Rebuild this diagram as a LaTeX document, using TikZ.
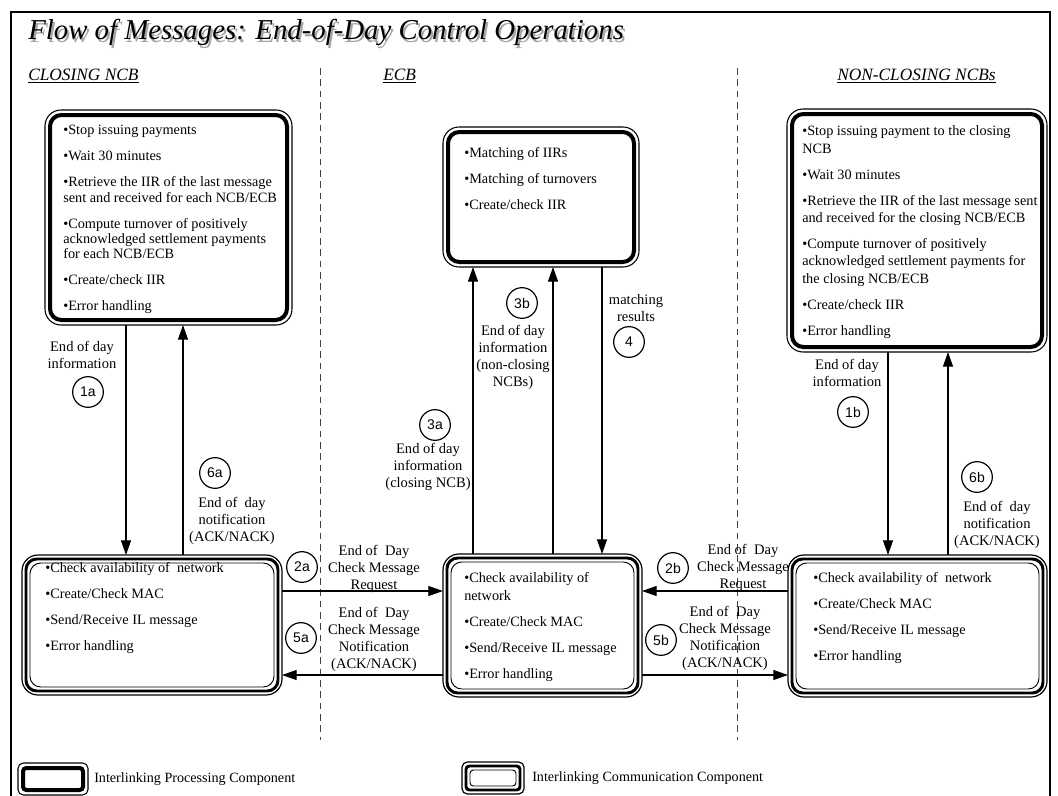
\documentclass[tikz,border=0pt]{standalone}
\usepackage{fontspec}
\setmainfont{Liberation Serif}
\newfontfamily\circfont{Liberation Sans}
\usetikzlibrary{arrows.meta,fit}

\newcommand\mkproc[7]{%
  \node[fit={(#2,#3) (#4,#5)},inner sep=0pt,outer sep=0pt] (#1) {};
  \draw[line width=0.8pt,rounded corners=#6] (#1.north west) rectangle (#1.south east);
  \draw[line width=3pt,rounded corners=#7] ([shift={(5,5)}]#1.north west) rectangle ([shift={(-5,-5)}]#1.south east);}
\newcommand\mkcomm[7]{%
  \node[fit={(#2,#3) (#4,#5)},inner sep=0pt,outer sep=0pt] (#1) {};
  \draw[line width=0.9pt,rounded corners=#6] (#1.north west) rectangle (#1.south east);
  \draw[line width=2.2pt,rounded corners=#7] ([shift={(4,4)}]#1.north west) rectangle ([shift={(-4,-4)}]#1.south east);
  \draw[line width=0.7pt,rounded corners=#7] ([shift={(8,8)}]#1.north west) rectangle ([shift={(-8,-8)}]#1.south east);}

\begin{document}
\begin{tikzpicture}[x=0.75pt,y=-0.75pt,
  arr/.style={line width=0.9pt,-{Triangle[length=11pt,width=7.5pt]}},
  lbl/.style={align=center,font=\fontsize{10.9}{12.75}\selectfont,inner sep=0pt},
  num/.style={circle,draw,line width=0.9pt,minimum size=23pt,inner sep=0pt,font=\circfont\fontsize{10.5}{12}\selectfont},
  items/.style={anchor=north west,align=left,inner sep=0pt,font=\fontsize{10.7}{13}\selectfont},
  head/.style={anchor=base west,inner sep=0pt,font=\itshape\fontsize{13}{15}\selectfont},
  sep/.style={line width=0.6pt,draw=black!75,dash pattern=on 5pt off 3.5pt},
  legtext/.style={anchor=west,inner sep=0pt,font=\fontsize{10.6}{12}\selectfont}]
\useasboundingbox (0,0) rectangle (1058,796);

% frame
\draw[line width=1.3pt] (11,805) -- (11,12) -- (1050,12) -- (1050,805);

% title
\node[anchor=base west,inner sep=0pt,text=black!35,font=\itshape\fontsize{21.6}{24}\selectfont] at (30,42) {Flow of Messages: End-of-Day Control Operations};
\node[anchor=base west,inner sep=0pt,font=\itshape\fontsize{21.6}{24}\selectfont] (title) at (28,40) {Flow of Messages: End-of-Day Control Operations};

% headings
\node[head] (hA) at (28,80) {\underline{CLOSING NCB}};
\node[head] (hE) at (383,80) {\underline{ECB}};
\node[head] (hB) at (837,80) {\underline{NON-CLOSING NCBs}};

% separators
\draw[sep] (320,68) -- (320,740);
\draw[sep] (737,68) -- (737,740);

% processing boxes
\mkproc{pA}{45}{110}{292}{325}{12pt}{8.5pt}
\mkproc{pE}{443}{127}{639}{267}{12pt}{8.5pt}
\mkproc{pB}{787}{109}{1047}{352}{12pt}{8.5pt}
% communication boxes
\mkcomm{cA}{22}{555}{282}{695}{12pt}{8pt}
\mkcomm{cE}{443}{554}{642}{697}{12pt}{8pt}
\mkcomm{cB}{788}{555}{1047}{697}{12pt}{8pt}

% box texts
\node[items,font=\fontsize{10.7}{11.5}\selectfont] (tA) at (63,125) {%
\textbullet Stop issuing payments\\[8pt]
\textbullet Wait 30 minutes\\[8pt]
\textbullet Retrieve the IIR of the last message\\
sent and received for each NCB/ECB\\[8pt]
\textbullet Compute turnover of positively\\
acknowledged settlement payments\\
for each NCB/ECB\\[8pt]
\textbullet Create/check IIR\\[8pt]
\textbullet Error handling};

\node[items] (tE) at (464,147.5) {%
\textbullet Matching of IIRs\\[6.5pt]
\textbullet Matching of turnovers\\[6.5pt]
\textbullet Create/check IIR};

\node[items] (tB) at (802,125.5) {%
\textbullet Stop issuing payment to the closing\\
NCB\\[6.5pt]
\textbullet Wait 30 minutes\\[6.5pt]
\textbullet Retrieve the IIR of the last message sent\\
and received for the closing NCB/ECB\\[6.5pt]
\textbullet Compute turnover of positively\\
acknowledged settlement payments for\\
the closing NCB/ECB\\[6.5pt]
\textbullet Create/check IIR\\[6.5pt]
\textbullet Error handling};

\node[items] (uA) at (45,562.5) {%
\textbullet Check availability of\ \ network\\[6.5pt]
\textbullet Create/Check MAC\\[6.5pt]
\textbullet Send/Receive IL message\\[6.5pt]
\textbullet Error handling};

\node[items] (uE) at (464,572.5) {%
\textbullet Check availability of\\
network\\[6.5pt]
\textbullet Create/Check MAC\\[6.5pt]
\textbullet Send/Receive IL message\\[6.5pt]
\textbullet Error handling};

\node[items] (uB) at (813,572.5) {%
\textbullet Check availability of\ \ network\\[6.5pt]
\textbullet Create/Check MAC\\[6.5pt]
\textbullet Send/Receive IL message\\[6.5pt]
\textbullet Error handling};

% x / y helper coordinates
\coordinate (x1a) at (126,0);
\coordinate (x6a) at (183,0);
\coordinate (x3a) at (473,0);
\coordinate (x3b) at (553,0);
\coordinate (x4) at (602,0);
\coordinate (x1b) at (888,0);
\coordinate (x6b) at (948,0);
\coordinate (yreq) at (0,591);
\coordinate (ynot) at (0,675);

% connectors
\draw[arr] (pA.south -| x1a) -- (cA.north -| x1a);
\draw[arr] (cA.north -| x6a) -- (pA.south -| x6a);
\draw[arr] (cE.north -| x3a) -- (pE.south -| x3a);
\draw[arr] (cE.north -| x3b) -- (pE.south -| x3b);
\draw[arr] (pE.south -| x4) -- (cE.north -| x4);
\draw[arr] (pB.south -| x1b) -- (cB.north -| x1b);
\draw[arr] (cB.north -| x6b) -- (pB.south -| x6b);
\draw[arr] (cA.east |- yreq) -- (cE.west |- yreq);
\draw[arr] (cE.west |- ynot) -- (cA.east |- ynot);
\draw[arr] (cB.west |- yreq) -- (cE.east |- yreq);
\draw[arr] (cE.east |- ynot) -- (cB.west |- ynot);

% labels
\node[lbl] (l1a) at (82,355) {End of day\\information};
\node[num] (n1a) at (88,392) {1a};
\node[num] (n6a) at (215,473) {6a};
\node[lbl] (l6a) at (232,521) {End of\ \ day\\notification\\(ACK/NACK)};
\node[num] (n3a) at (435,425) {3a};
\node[lbl] (l3a) at (428,467) {End of day\\information\\(closing NCB)};
\node[num] (n3b) at (522,303) {3b};
\node[lbl] (l3b) at (513,357) {End of day\\information\\(non-closing\\NCBs)};
\node[lbl] (l4) at (636,308) {matching\\results};
\node[num] (n4) at (629,342) {4};
\node[num] (n2a) at (302,567) {2a};
\node[lbl] (l2a) at (374,569) {End of\ \ Day\\Check Message\\Request};
\node[num] (n5a) at (301,638) {5a};
\node[lbl] (l5a) at (374,639) {End of\ \ Day\\Check Message\\Notification\\(ACK/NACK)};
\node[num] (n2b) at (673,568) {2b};
\node[lbl] (l2b) at (743,568) {End of\ \ Day\\Check Message\\Request};
\node[num] (n5b) at (661,640) {5b};
\node[lbl] (l5b) at (725,638) {End of\ \ Day\\Check Message\\Notification\\(ACK/NACK)};
\node[lbl] (l1b) at (847,373) {End of day\\information};
\node[num] (n1b) at (853,412) {1b};
\node[num] (n6b) at (977,477) {6b};
\node[lbl] (l6b) at (997,525) {End of\ \ day\\notification\\(ACK/NACK)};

% legend
\mkproc{lgP}{18}{763}{88}{795}{4pt}{2.5pt}
\node[legtext] (lgPt) at (94,779) {Interlinking Processing Component};
\mkcomm{lgC}{462}{762}{524}{794}{4pt}{2.5pt}
\node[legtext] (lgCt) at (532,778) {Interlinking Communication Component};
\end{tikzpicture}
\end{document}
